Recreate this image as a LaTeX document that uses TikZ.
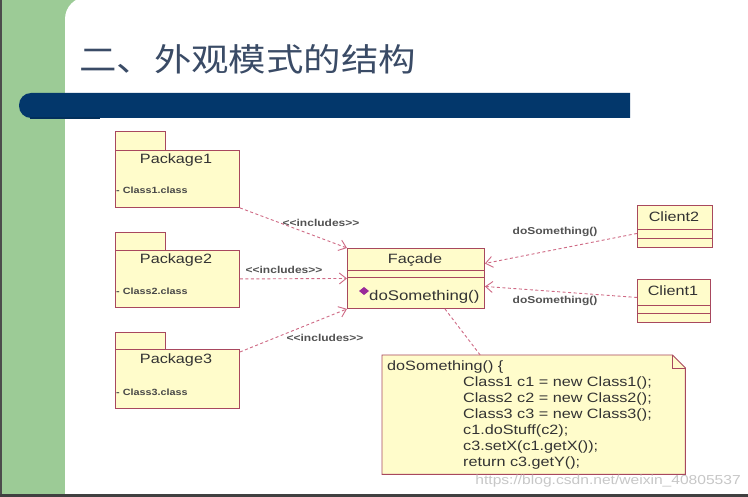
\documentclass[tikz,border=0pt]{standalone}
\usepackage{fontspec}
\setmainfont{Liberation Sans}[FakeStretch=1.2]
\newfontfamily\cjk{Noto Sans CJK SC}[FakeStretch=1.17]
\usetikzlibrary{arrows.meta}
\definecolor{bandgreen}{HTML}{9CCB96}
\definecolor{barblue}{HTML}{03376B}
\definecolor{titlecol}{HTML}{3A4B66}
\definecolor{umlfill}{HTML}{FFFCCB}
\definecolor{umlborder}{HTML}{A8485E}
\definecolor{dashcol}{HTML}{CF6A85}
\definecolor{txt}{HTML}{333333}
\definecolor{iconcol}{HTML}{9A2A9A}
\newcommand{\incl}{{<}{<}includes{>}{>}}
\tikzset{
  umlbox/.style={draw=umlborder, fill=umlfill, line width=0.9pt, anchor=north west, inner sep=0pt},
  pkgname/.style={font=\fontsize{13.5}{15}\selectfont, text=txt, inner sep=0pt},
  clsfile/.style={font=\fontsize{9}{10}\selectfont\bfseries, text=txt!90, anchor=west, inner sep=0pt},
  deplink/.style={draw=dashcol, line width=0.9pt, dash pattern=on 3pt off 2.5pt, -{Straight Barb[length=7pt,width=11pt]}},
  notelink/.style={draw=dashcol, line width=0.9pt, dash pattern=on 3pt off 2.5pt},
  deplabel/.style={font=\fontsize{10}{11}\selectfont\bfseries, text=txt!85, inner sep=0pt},
  cmpline/.style={draw=umlborder, line width=0.9pt}
}
\begin{document}
\begin{tikzpicture}[x=1pt,y=-1pt]
\useasboundingbox (0,0) rectangle (748,497);
% background
\fill[white] (0,0) rectangle (748,497);
\fill[bandgreen] (0,0) rectangle (95,497);
\fill[white] (65,497) [rounded corners=22pt] -- (65,-3) [sharp corners] -- (752,-3) -- (752,497) -- cycle;
\fill[black!70] (0,0) rectangle (2,497);
\fill[black!75] (0,494) rectangle (748,497);
% title
\node[anchor=west, inner sep=0pt, text=titlecol, font=\cjk\fontsize{32}{35}\selectfont] (title) at (79,59) {二、外观模式的结构};
% bar
\fill[barblue] (630,93) [rounded corners=12pt] -- (19,93) -- (19,118) [sharp corners] -- (630,118) -- cycle;
\fill[barblue!85!black] (30,117) rectangle (100,119.5);

% packages
\node[umlbox, minimum width=50pt, minimum height=19pt] (t1) at (115,131) {};
\node[umlbox, minimum width=124pt, minimum height=57pt] (p1) at (115,150) {};
\node[pkgname] (p1n) at (176,160) {Package1};
\node[clsfile] (p1c) at (116,190) {- Class1.class};

\node[umlbox, minimum width=50pt, minimum height=18pt] (t2) at (115,232) {};
\node[umlbox, minimum width=124pt, minimum height=57pt] (p2) at (115,250) {};
\node[pkgname] (p2n) at (176,260) {Package2};
\node[clsfile] (p2c) at (116,291) {- Class2.class};

\node[umlbox, minimum width=50pt, minimum height=17pt] (t3) at (115,332) {};
\node[umlbox, minimum width=124pt, minimum height=59pt] (p3) at (115,349) {};
\node[pkgname] (p3n) at (176,360) {Package3};
\node[clsfile] (p3c) at (116,392) {- Class3.class};

% facade
\node[umlbox, minimum width=137pt, minimum height=60pt] (fac) at (347,248) {};
\draw[cmpline] (347,270) -- (484,270);
\draw[cmpline] (347,277) -- (484,277);
\node[pkgname] (facn) at (415,260) {Façade};
\fill[iconcol] (359,291) -- (364,287) -- (369,291) -- (364,295) -- cycle;
\node[anchor=west, inner sep=0pt, text=txt, font=\fontsize{14}{16}\selectfont] (facop) at (369,297) {doSomething()};

% clients
\node[umlbox, minimum width=75pt, minimum height=42pt] (c2) at (637,205) {};
\draw[cmpline] (637,229) -- (712,229);
\draw[cmpline] (637,238) -- (712,238);
\node[pkgname] (c2n) at (674,217) {Client2};

\node[umlbox, minimum width=73pt, minimum height=43pt] (c1) at (637,279) {};
\draw[cmpline] (637,305) -- (710,305);
\draw[cmpline] (637,313) -- (710,313);
\node[pkgname] (c1n) at (673,291) {Client1};

% note
\node[inner sep=0pt, anchor=north west, minimum width=303pt, minimum height=119pt] (note) at (382,355) {};
\draw[draw=umlborder, fill=umlfill, line width=0.9pt]
  (note.north west) -- ([xshift=-13pt]note.north east) -- ([yshift=-13pt]note.north east)
  -- (note.south east) -- (note.south west) -- cycle;
\draw[draw=umlborder, line width=0.9pt] ([xshift=-13pt]note.north east) -- ([xshift=-13pt,yshift=-13pt]note.north east) -- ([yshift=-13pt]note.north east);
\node[anchor=north west, inner sep=0pt, align=left, text=txt, font=\fontsize{13.5}{16}\selectfont] (notetext) at (387,361)
{doSomething() \{\\
\hspace*{76pt}Class1 c1 = new Class1();\\
\hspace*{76pt}Class2 c2 = new Class2();\\
\hspace*{76pt}Class3 c3 = new Class3();\\
\hspace*{76pt}c1.doStuff(c2);\\
\hspace*{76pt}c3.setX(c1.getX());\\
\hspace*{76pt}return c3.getY();};

% connectors
\draw[deplink] (p1.south east) -- (fac.north west);
\draw[deplink] (p2.east) -- (fac.west);
\draw[deplink] ([yshift=-3pt]p3.north east) -- (fac.south west);
\draw[deplink] ([yshift=-7pt]c2.west) -- ([yshift=15pt]fac.east);
\draw[deplink] ([yshift=3.5pt]c1.west) -- ([yshift=-8pt]fac.east);
\draw[notelink] ([xshift=29pt]fac.south) -- ([xshift=-53.5pt]note.north);

\node[deplabel] (l1) at (321,223) {\incl};
\node[deplabel] (l2) at (284,270) {\incl};
\node[deplabel] (l3) at (325,338) {\incl};
\node[deplabel] (l4) at (555,232) {doSomething()};
\node[deplabel] (l5) at (555,301) {doSomething()};

% watermark
\node[anchor=east, inner sep=0pt, text=black!22, font=\fontsize{13}{15}\selectfont] (wm) at (741,481) {https://blog.csdn.net/weixin\_40805537};
\end{tikzpicture}
\end{document}
